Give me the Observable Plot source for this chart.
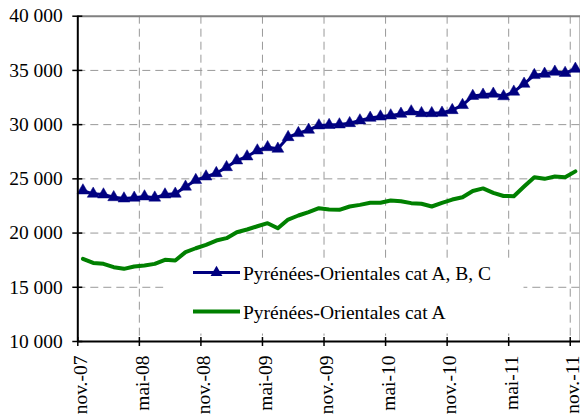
<!DOCTYPE html>
<html><head><meta charset="utf-8">
<script src="https://cdn.jsdelivr.net/npm/d3@7"></script>
<script src="https://cdn.jsdelivr.net/npm/@observablehq/plot@0.6"></script>
<style>
body{margin:0;background:#fff;overflow:hidden}
#wrap{width:580px;height:416px}
svg text{font-family:"Liberation Serif","Times New Roman",serif}
</style></head><body><div id="wrap"></div>
<script>
const months = ["nov.-07","déc.-07","janv.-08","févr.-08","mars-08","avr.-08","mai-08","juin-08","juil.-08","août-08","sept.-08","oct.-08",
"nov.-08","déc.-08","janv.-09","févr.-09","mars-09","avr.-09","mai-09","juin-09","juil.-09","août-09","sept.-09","oct.-09",
"nov.-09","déc.-09","janv.-10","févr.-10","mars-10","avr.-10","mai-10","juin-10","juil.-10","août-10","sept.-10","oct.-10",
"nov.-10","déc.-10","janv.-11","févr.-11","mars-11","avr.-11","mai-11","juin-11","juil.-11","août-11","sept.-11","oct.-11","nov.-11"];
const catABC = [23920,23620,23550,23300,23180,23250,23370,23260,23550,23620,
24270,24880,25210,25520,26070,26690,27060,27610,27910,27770,
28840,29210,29520,29920,29960,30010,30130,30380,30620,30740,
30840,30990,31210,31050,31050,31090,31330,31800,32640,32750,
32840,32610,33030,33760,34560,34680,34870,34760,35140];
const catA = [17620,17250,17160,16850,16700,16920,17010,17160,17530,17470,
18240,18600,18920,19310,19530,20080,20330,20630,20910,20450,
21250,21620,21930,22290,22170,22140,22450,22600,22790,22790,
23000,22940,22760,22700,22450,22790,23090,23300,23880,24120,
23710,23420,23400,24290,25150,25000,25210,25150,25690];
const seriesNames = ["Pyrénées-Orientales cat A, B, C","Pyrénées-Orientales cat A"];
const xTickLabels = ["nov.-07","mai-08","nov.-08","mai-09","nov.-09","mai-10","nov.-10","mai-11","nov.-11"];
const yTicks = [10000,15000,20000,25000,30000,35000,40000];

const xTickIndex = xTickLabels.map(l => months.indexOf(l));
const data = months.map((m, i) => ({i: i + 0.5, m, abc: catABC[i], a: catA[i]}));
const fmt = v => d3.format(",")(v).replace(/,/g, "\u00a0");
const FONT = '"Liberation Serif", "Times New Roman", serif';
const blue = "#000080", green = "#008000", grid = "#999999";
const W = 580, H = 416, ML = 77.3, MT = 15.7, MB = 75;
const R = 4.4;

const svg = Plot.plot({
  width: W, height: H,
  marginLeft: ML, marginRight: 0, marginTop: MT, marginBottom: MB,
  style: {fontFamily: FONT, fontSize: "19.5px", background: "transparent", color: "#000"},
  x: {type: "linear", domain: [0, months.length], axis: null, label: null},
  y: {domain: [10000, 40000], axis: null, label: null},
  marks: [
    Plot.ruleX(xTickIndex.slice(1), {x: d => d, stroke: grid, strokeDasharray: "8,5", strokeWidth: 1}),
    Plot.ruleY(yTicks.slice(1, -1), {y: d => d, stroke: grid, strokeDasharray: "8,5", strokeWidth: 1}),
    Plot.ruleY(yTicks.slice(-1), {y: d => d, stroke: "#808080", strokeWidth: 2}),
    Plot.ruleX([months.length], {stroke: "#808080", strokeWidth: 2}),
    // legend box (white) hiding the grid
    Plot.frame({fill: "#fff", stroke: null, insetLeft: 163 - ML, insetTop: 258 - MT, insetRight: W - 523, insetBottom: (H - MB) - 333}),
    Plot.line(data, {x: "i", y: "a", stroke: green, strokeWidth: 4}),
    Plot.line(data, {x: "i", y: "abc", stroke: blue, strokeWidth: 3}),
    Plot.dot(data, {x: "i", y: "abc", symbol: "triangle", r: R, fill: blue, stroke: blue, strokeWidth: 0.5}),
    Plot.ruleX([0], {stroke: "#000", strokeWidth: 2}),
    Plot.ruleY([10000], {stroke: "#000", strokeWidth: 2}),
    Plot.axisY(yTicks, {anchor: "left", tickSize: 10, dx: 5, tickFormat: () => "", label: null, stroke: "#000", strokeWidth: 1.5}),
    Plot.axisY(yTicks, {anchor: "left", tickSize: 0, tickPadding: 15, tickFormat: fmt, label: null, fontSize: 19.5, fontFamily: FONT, fill: "#000"}),
    Plot.axisX(xTickIndex, {anchor: "bottom", tickSize: 9, dy: -4, tickFormat: () => "", label: null, stroke: "#000", strokeWidth: 1.5}),
    Plot.axisX(xTickIndex, {anchor: "bottom", tickSize: 0, tickPadding: 14, tickRotate: -90, dx: 3, label: null,
      tickFormat: d => xTickLabels[xTickIndex.indexOf(d)], fontSize: 19.5, fontFamily: FONT, fill: "#000"})
  ]
});
document.getElementById("wrap").appendChild(svg);

const lg = d3.select(svg).append("g").attr("font-family", FONT).attr("font-size", "19.5px").attr("text-anchor", "start");
const rows = [{name: seriesNames[0], color: blue, w: 3, marker: true, y: 272.5},
              {name: seriesNames[1], color: green, w: 4, marker: false, y: 311.5}];
rows.forEach(r => {
  lg.append("line").attr("x1", 193).attr("x2", 240).attr("y1", r.y).attr("y2", r.y)
    .attr("stroke", r.color).attr("stroke-width", r.w);
  if (r.marker) lg.append("path").attr("d", d3.symbol(d3.symbolTriangle, Math.PI * R * R)())
    .attr("transform", `translate(216.5,${r.y})`).attr("fill", r.color);
  lg.append("text").attr("x", 243).attr("y", r.y + 7).attr("fill", "#000").attr("text-anchor", "start").text(r.name);
});
</script></body></html>
